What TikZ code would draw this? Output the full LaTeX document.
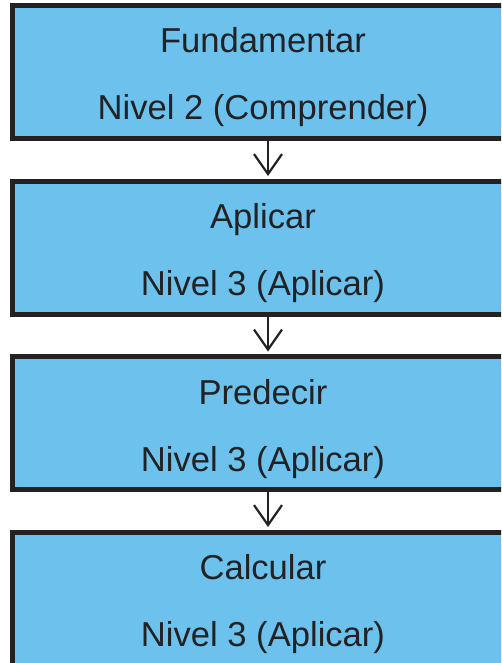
\documentclass[tikz,border=0pt]{standalone}
\usepackage{fontspec}
\setmainfont{Liberation Sans}
\usetikzlibrary{arrows.meta}
\definecolor{boxfill}{RGB}{108,194,237}
\definecolor{ink}{RGB}{34,34,36}
\tikzset{
  stagebox/.style={draw=ink, fill=boxfill, line width=5pt, rectangle,
    minimum width=517.5pt, minimum height=133pt, inner sep=0pt},
  lbl/.style={anchor=base, inner sep=0pt, text=ink,
    font=\fontsize{34.6}{40}\selectfont},
  flow/.style={draw=ink, line width=2.2pt,
    -{Straight Barb[length=20pt,width=28pt,line width=2.2pt]}, shorten >=2.5pt}
}
\begin{document}
\begin{tikzpicture}[x=1pt,y=-1pt]
\useasboundingbox (0,0) rectangle (501,663);
\clip (0,0) rectangle (501,663);
\node[stagebox] (b1) at (271.25,72) {};
\node[stagebox] (b2) at (271.25,247.5) {};
\node[stagebox] (b3) at (271.25,423) {};
\node[stagebox] (b4) at (271.25,598.5) {};
\node[lbl] (t1a) at (263,53) {Fundamentar};
\node[lbl] (t1b) at (263,120) {Nivel 2 (Comprender)};
\node[lbl] (t2a) at (263,228.5) {Aplicar};
\node[lbl] (t2b) at (263,295.5) {Nivel 3 (Aplicar)};
\node[lbl] (t3a) at (263,404) {Predecir};
\node[lbl] (t3b) at (263,471) {Nivel 3 (Aplicar)};
\node[lbl] (t4a) at (263,579.5) {Calcular};
\node[lbl] (t4b) at (263,646.5) {Nivel 3 (Aplicar)};
\coordinate (ax) at (268,0);
\draw[flow] (b1.south -| ax) -- (b2.north -| ax);
\draw[flow] (b2.south -| ax) -- (b3.north -| ax);
\draw[flow] (b3.south -| ax) -- (b4.north -| ax);
\end{tikzpicture}
\end{document}
